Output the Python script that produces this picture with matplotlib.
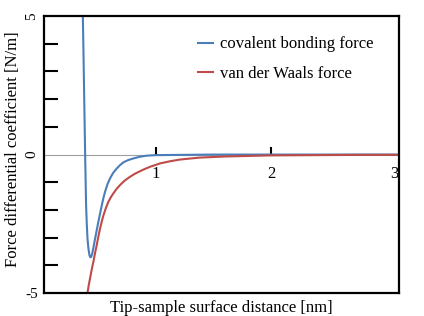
import matplotlib
matplotlib.use("Agg")
import matplotlib.pyplot as plt

plt.rcParams['font.family'] = ['Liberation Serif', 'DejaVu Serif']

# distances [nm] and force derivative [N/m]
cov_x = [0.367, 0.372, 0.377, 0.382, 0.387, 0.391, 0.395, 0.401, 0.407, 0.415, 0.424,
         0.432, 0.439, 0.447, 0.458, 0.474, 0.488, 0.502, 0.517, 0.532, 0.546,
         0.560, 0.580, 0.603, 0.630, 0.662, 0.690, 0.719, 0.760, 0.806, 0.860,
         0.922, 1.000, 1.500, 2.000, 2.500, 3.110]
cov_y = [5.00, 3.80, 2.50, 1.25, 0.00, -0.95, -1.81, -2.50, -3.02, -3.38, -3.63,
         -3.71, -3.70, -3.60, -3.38, -3.02, -2.72, -2.42, -2.12, -1.82, -1.56,
         -1.34, -1.08, -0.86, -0.66, -0.50, -0.38, -0.28, -0.20, -0.14, -0.08,
         -0.04, -0.02, 0.00, 0.00, 0.00, 0.00]

vdw_x = [0.407, 0.418, 0.430, 0.444, 0.459, 0.473, 0.488, 0.502, 0.517, 0.531,
         0.546, 0.567, 0.589, 0.610, 0.632, 0.660, 0.690, 0.730, 0.777, 0.820,
         0.864, 0.905, 0.951, 1.037, 1.126, 1.210, 1.380, 1.600, 1.800, 2.000,
         2.400, 2.800, 3.110]
vdw_y = [-5.01, -4.72, -4.46, -4.15, -3.86, -3.55, -3.26, -2.95, -2.66, -2.42,
         -2.19, -1.93, -1.70, -1.54, -1.40, -1.24, -1.10, -0.94, -0.80, -0.69,
         -0.60, -0.52, -0.44, -0.32, -0.24, -0.18, -0.11, -0.07, -0.05, -0.03,
         -0.02, -0.01, -0.01]

x_ticks = [1, 2, 3.07]
x_tick_labels = ["1", "2", "3"]
y_minor = [-4, -3, -2, -1, 1, 2, 3, 4]
y_ticks = [-5, 0, 5]
y_tick_labels = ["-5", "0", "5"]

blue = "#4A7EBB"
red = "#BE4B48"

fig = plt.figure(figsize=(4.24, 3.16), dpi=100)
ax = fig.add_axes([0.1038, 0.0728, 0.8372, 0.8762])

ax.plot(cov_x, cov_y, color=blue, lw=1.5, solid_joinstyle='round',
        label="covalent bonding force")
ax.plot(vdw_x, vdw_y, color=red, lw=1.5, solid_joinstyle='round',
        label="van der Waals force")

ax.set_xlim(0.03, 3.11)
ax.set_ylim(-5, 5)

# bottom spine sits on the zero line, frame bottom drawn separately
ax.spines['bottom'].set_position(('data', 0))
ax.spines['bottom'].set_color("#A0A0A0")
ax.spines['bottom'].set_linewidth(0.8)
ax.spines['bottom'].set_zorder(0)
ax.axhline(-5, color="black", lw=1.6, clip_on=False)
for s in ['top', 'left', 'right']:
    ax.spines[s].set_linewidth(1.6)

ax.set_xticks(x_ticks)
ax.set_xticklabels(x_tick_labels, fontsize=12)
ax.tick_params(axis='x', direction='in', length=6, width=1.5, pad=8,
               color='black', labelcolor='black')
ax.xaxis.get_major_ticks()[2].tick1line.set_visible(False)

ax.set_yticks(y_ticks)
ax.set_yticklabels(y_tick_labels, fontsize=11)
ax.set_yticks(y_minor, minor=True)
ax.tick_params(axis='y', which='major', length=0, pad=4)
ax.tick_params(axis='y', which='minor', direction='in', length=10, width=1.5)
for lab in ax.get_yticklabels():
    if lab.get_text() != "-5":
        lab.set_rotation(90)
        lab.set_va('center')

ax.set_xlabel("Tip-sample surface distance [nm]", fontsize=12, labelpad=0)
ax.xaxis.set_label_coords(0.5, -0.025)
ax.set_ylabel("Force differential coefficient [N/m]", fontsize=12)
ax.yaxis.set_label_coords(-0.065, 0.52)

ax.legend(loc='upper left', bbox_to_anchor=(0.41, 0.957), frameon=False,
          fontsize=12, handlelength=0.9, handletextpad=0.4, labelspacing=0.8,
          borderpad=0)

fig.savefig("out.png", dpi=100)
